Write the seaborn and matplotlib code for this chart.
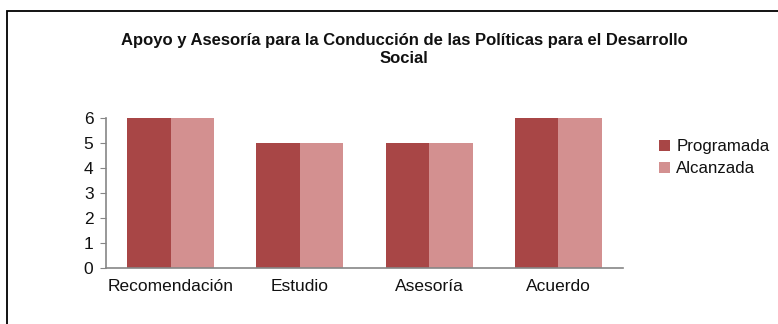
import matplotlib
matplotlib.use("Agg")
import matplotlib.pyplot as plt
import seaborn as sns
import pandas as pd
from matplotlib.patches import Rectangle

categories = ["Recomendación", "Estudio", "Asesoría", "Acuerdo"]
programada = [6, 5, 5, 6]
alcanzada = [6, 5, 5, 6]
series_names = ["Programada", "Alcanzada"]
colors = ["#A84646", "#D39090"]
title = "Apoyo y Asesoría para la Conducción de las Políticas para el Desarrollo\nSocial"

df = pd.DataFrame({
    "cat": categories * 2,
    "val": programada + alcanzada,
    "serie": [series_names[0]] * 4 + [series_names[1]] * 4,
})

sns.set_style("white")
plt.rcParams["font.family"] = ["Liberation Sans", "DejaVu Sans"]

W, H = 778, 324
fig = plt.figure(figsize=(W / 100, H / 100), dpi=100)
ax = fig.add_axes([106 / W, 1 - 267.5 / H, 517 / W, 149.5 / H])

sns.barplot(data=df, x="cat", y="val", hue="serie", palette=colors,
            width=0.675, ax=ax, saturation=1, edgecolor="none", legend=True)
ax.set_xlim(-0.5, 3.5)
ax.set_ylim(0, 6)
ax.set_yticks(range(0, 7))
ax.set_xlabel("")
ax.set_ylabel("")
for s in ["top", "right"]:
    ax.spines[s].set_visible(False)
for s in ["left", "bottom"]:
    ax.spines[s].set_color("#868686")
    ax.spines[s].set_linewidth(1.2)
ax.set_xticks([-0.5, 0.5, 1.5, 2.5, 3.5], minor=False)
ax.set_xticklabels([""] * 5)
ax.set_xticks(range(4), minor=True)
ax.set_xticklabels(categories, minor=True)
ax.tick_params(axis="x", which="minor", length=0, pad=8, labelsize=12.5, labelcolor="#111111")
ax.tick_params(axis="x", which="major", length=4, color="#868686", direction="out")
ax.tick_params(axis="y", length=4, color="#868686", direction="out", labelsize=12.5,
               pad=5, left=True, labelcolor="#111111")

h, l = ax.get_legend_handles_labels()
ax.legend(h, l, loc="upper left", bbox_to_anchor=(644 / W, 1 - 124 / H),
          bbox_transform=fig.transFigure, frameon=False, fontsize=12.2,
          handlelength=0.65, handleheight=0.65, handletextpad=0.35, labelspacing=0.42,
          labelcolor="#111111")

fig.text(404 / W, 1 - 49.5 / H, title, ha="center", va="center",
         fontsize=12, fontweight="bold", linespacing=1.3, color="#111111")

fig.patches.append(Rectangle((7 / W, -5 / H), 790 / W, 318 / H, transform=fig.transFigure,
                             fill=False, edgecolor="black", linewidth=1.3, clip_on=False))

fig.savefig("out.png", dpi=100)
